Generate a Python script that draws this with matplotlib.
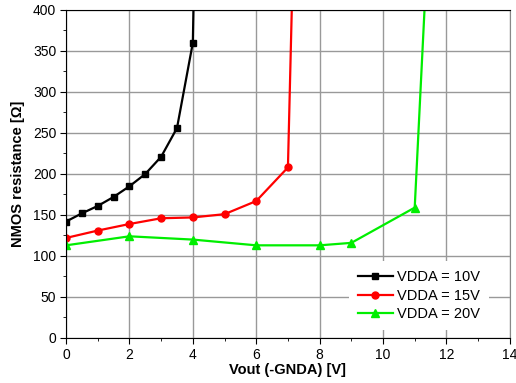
import matplotlib.pyplot as plt
from matplotlib.ticker import MultipleLocator

plt.rcParams['font.family'] = ['Liberation Sans', 'DejaVu Sans']

# datos
vout_10 = [0, 0.5, 1, 1.5, 2, 2.5, 3, 3.5, 4, 4.5]
r_10 = [142, 152, 161, 172, 185, 200, 221, 256, 360, 1400]

vout_15 = [0, 1, 2, 3, 4, 5, 6, 7, 7.5]
r_15 = [122, 131, 139, 146, 147, 151, 167, 208, 1000]

vout_20 = [0, 2, 4, 6, 8, 9, 11, 12]
r_20 = [113, 124, 120, 113, 113, 116, 159, 940]

fig = plt.figure(figsize=(5.16, 3.83), dpi=100)
ax = fig.add_axes([0.128, 0.1175, 0.86, 0.8565])

ax.plot(vout_10, r_10, color='black', marker='s', markersize=5, lw=1.6, label='VDDA = 10V')
ax.plot(vout_15, r_15, color='#ff0000', marker='o', markersize=5, lw=1.6, label='VDDA = 15V')
ax.plot(vout_20, r_20, color='#00ee00', marker='^', markersize=5.5, lw=1.6, label='VDDA = 20V')

ax.set_xlim(0, 14)
ax.set_ylim(0, 400)
ax.xaxis.set_major_locator(MultipleLocator(2))
ax.xaxis.set_minor_locator(MultipleLocator(1))
ax.yaxis.set_major_locator(MultipleLocator(50))
ax.yaxis.set_minor_locator(MultipleLocator(25))
ax.tick_params(which='major', direction='out', length=4, labelsize=10, pad=3)
ax.tick_params(which='minor', direction='out', length=2)

ax.grid(True, which='major', color='#999999', lw=1)
ax.set_axisbelow(True)
ax.spines['right'].set_color('#888888')

ax.set_xlabel('Vout (-GNDA) [V]', fontsize=10.5, fontweight='bold', labelpad=1)
ax.set_ylabel('NMOS resistance [Ω]', fontsize=10.5, fontweight='bold', labelpad=6)

leg = ax.legend(loc='lower right', bbox_to_anchor=(0.966, 0.006), frameon=True,
                fontsize=10.5, handlelength=2.4, borderaxespad=0.6,
                labelspacing=0.33, handletextpad=0.3)
leg.get_frame().set_edgecolor('none')
leg.get_frame().set_alpha(1)
leg.get_frame().set_boxstyle('square', pad=0.2)

fig.savefig('out.png', dpi=100)
